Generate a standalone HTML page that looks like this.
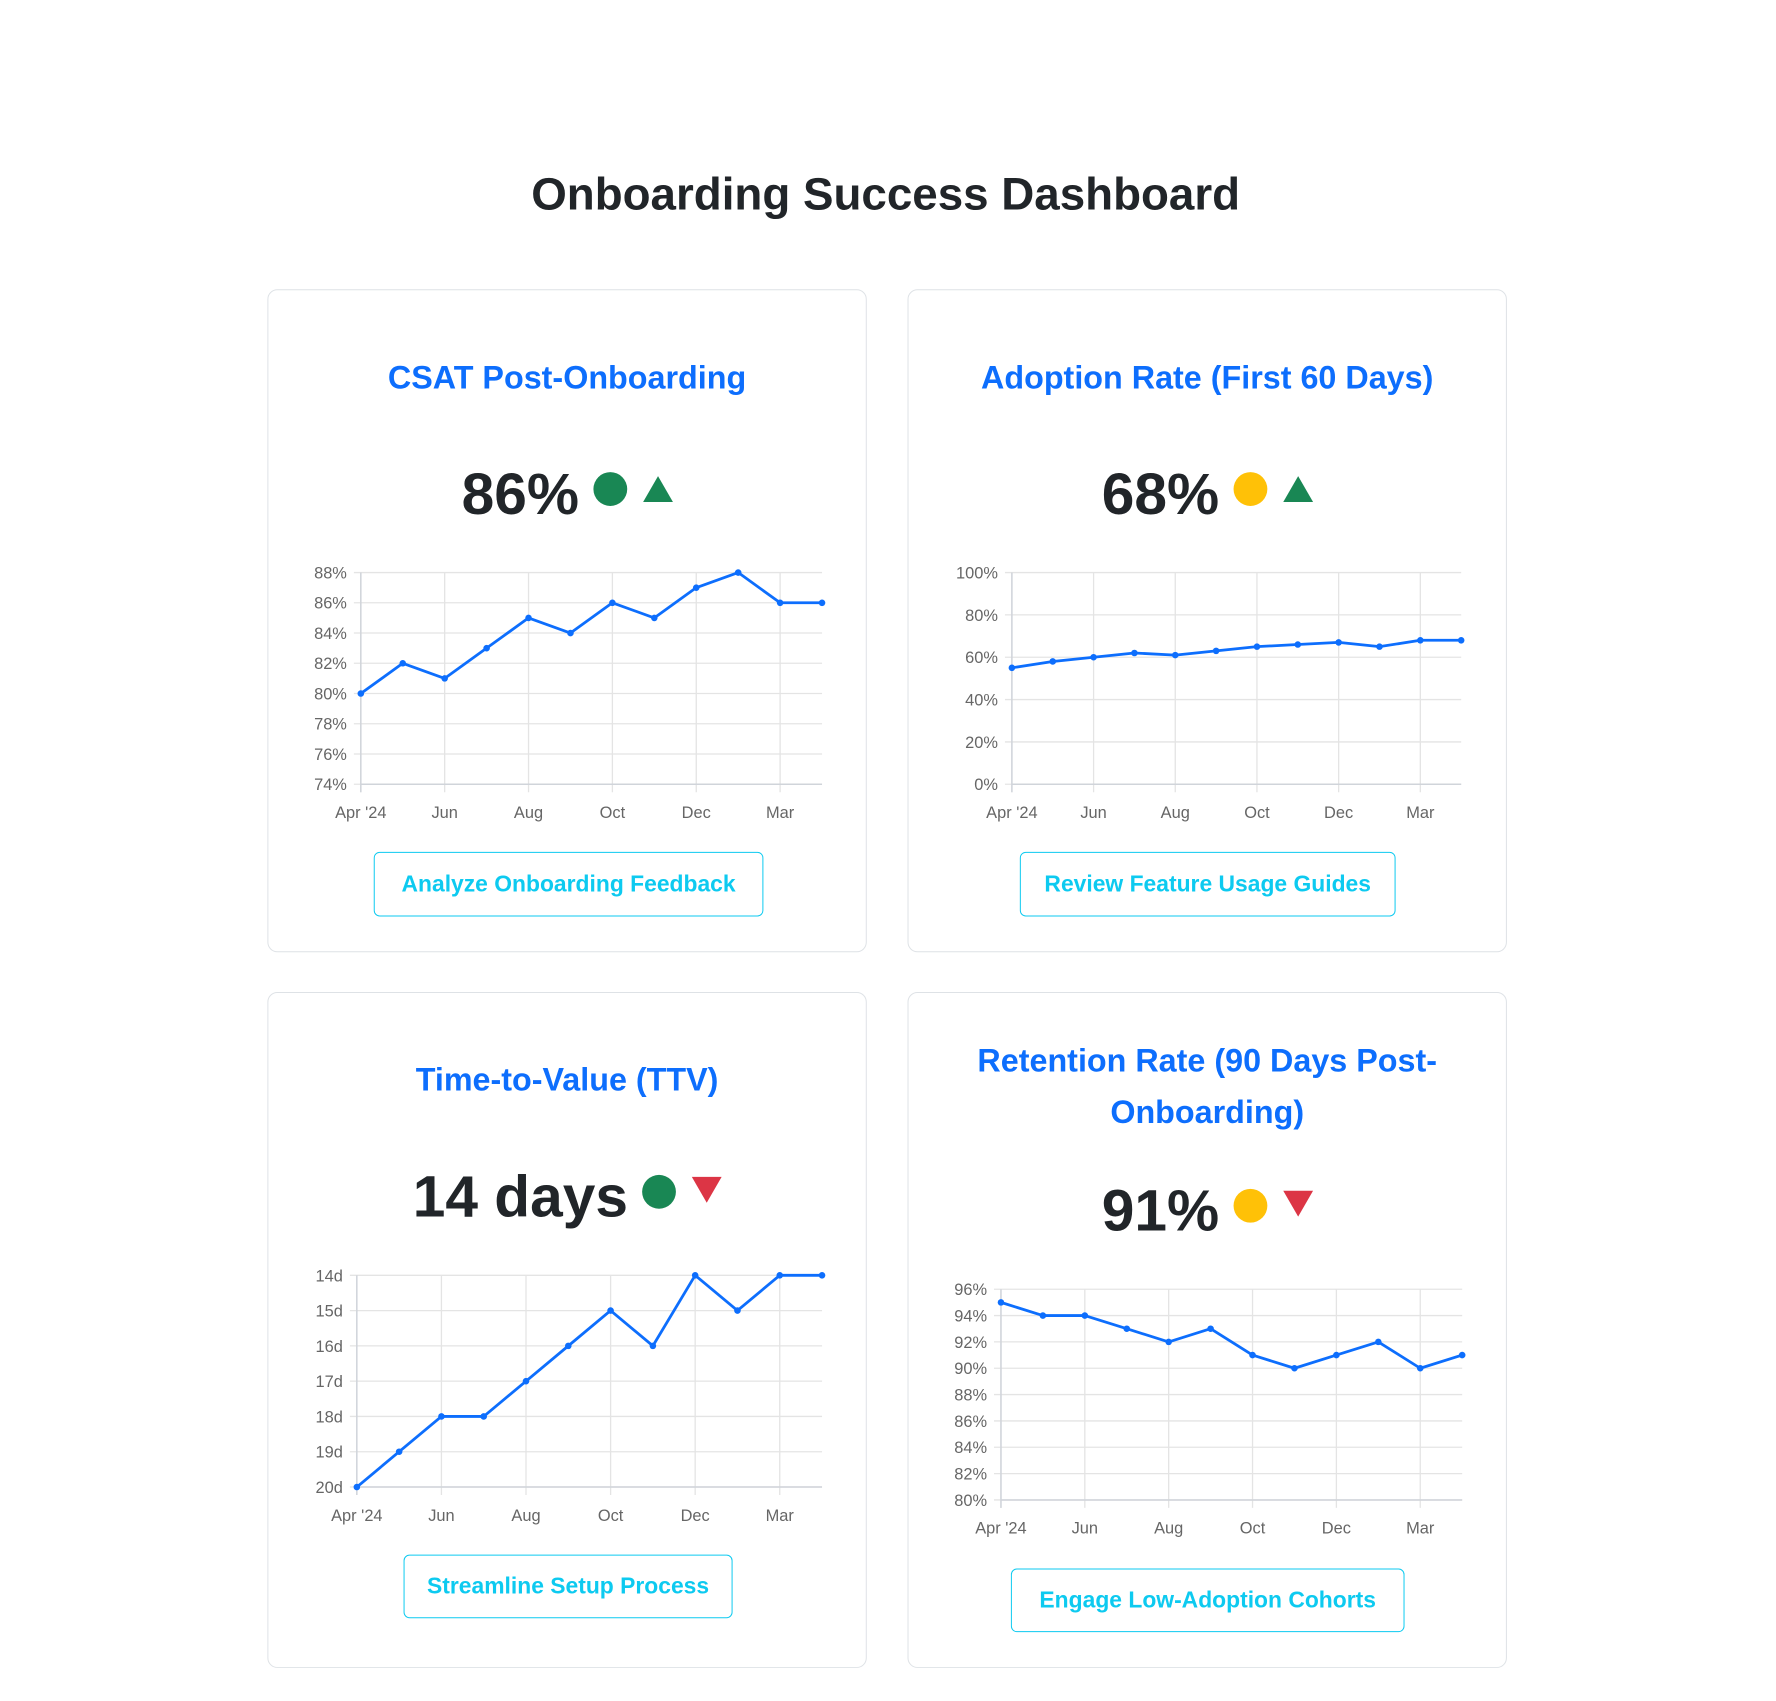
<!DOCTYPE html>
<html><head><meta charset="utf-8">
<style>
*{box-sizing:border-box;margin:0;padding:0}
body{width:1776px;height:1701px;background:#fff;font-family:"Liberation Sans",sans-serif;position:relative;overflow:hidden}
#wrap{position:absolute;left:0;top:0;width:1776px;height:1701px;transform:scale(0.994);transform-origin:0 0}
h1{position:absolute;left:0;width:1782px;top:168px;text-align:center;font-size:46px;font-weight:bold;color:#212529}
.card{position:absolute;border:1px solid #dee2e6;border-radius:10px;width:603px}
.ctitle{position:absolute;left:0;width:100%;text-align:center;font-size:32.5px;font-weight:bold;color:#0d6efd;line-height:52px}
.val{position:absolute;left:0;width:100%;text-align:center;font-size:59px;font-weight:bold;color:#212529;line-height:70px;white-space:nowrap}
.dot{display:inline-block;width:34px;height:34px;border-radius:50%;vertical-align:8px;margin-left:14px}
.tri{display:inline-block;width:0;height:0;border-left:15px solid transparent;border-right:15px solid transparent;vertical-align:12px;margin-left:16px}
.up{border-bottom:26px solid #198754}
.down{border-top:26px solid #dc3545;vertical-align:14px}
.btn{position:absolute;border:1.5px solid #0dcaf0;border-radius:6px;color:#0dcaf0;font-weight:bold;font-size:23px;text-align:center;background:#fff}
svg{position:absolute;left:0;top:0}
</style></head><body>
<div id="wrap">
<h1>Onboarding Success Dashboard</h1>

<div class="card" style="left:269px;top:291px;height:667px">
  <div class="ctitle" style="top:62px">CSAT Post-Onboarding</div>
  <div class="val" style="top:170px">86%<span class="dot" style="background:#198754"></span><span class="tri up"></span></div>
  <div class="btn" style="left:106px;top:565px;width:392px;height:65px;line-height:62px">Analyze Onboarding Feedback</div>
</div>
<div class="card" style="left:913px;top:291px;height:667px">
  <div class="ctitle" style="top:62px">Adoption Rate (First 60 Days)</div>
  <div class="val" style="top:170px">68%<span class="dot" style="background:#ffc107"></span><span class="tri up"></span></div>
  <div class="btn" style="left:112px;top:565px;width:378px;height:65px;line-height:62px">Review Feature Usage Guides</div>
</div>
<div class="card" style="left:269px;top:998px;height:680px">
  <div class="ctitle" style="top:61px">Time-to-Value (TTV)</div>
  <div class="val" style="top:170px">14 days<span class="dot" style="background:#198754"></span><span class="tri down"></span></div>
  <div class="btn" style="left:136px;top:565px;width:331px;height:64px;line-height:61px">Streamline Setup Process</div>
</div>
<div class="card" style="left:913px;top:998px;height:680px">
  <div class="ctitle" style="top:42px;padding:0 60px">Retention Rate (90 Days Post-Onboarding)</div>
  <div class="val" style="top:184px">91%<span class="dot" style="background:#ffc107"></span><span class="tri down"></span></div>
  <div class="btn" style="left:103px;top:579px;width:396px;height:64px;line-height:61px">Engage Low-Adoption Cohorts</div>
</div>

<svg id="charts" width="1776" height="1701"></svg>
</div>
<script>
const months = ["Apr '24","May","Jun","Jul","Aug","Sep","Oct","Nov","Dec","Jan","Mar","Apr"];
const tickIdx = [0,2,4,6,8,10];
const tickLabels = ["Apr '24","Jun","Aug","Oct","Dec","Mar"];
const csatValues = [80,82,81,83,85,84,86,85,87,88,86,86];
const csatTicks = [74,76,78,80,82,84,86,88];
const adoptionValues = [55,58,60,62,61,63,65,66,67,65,68,68];
const adoptionTicks = [0,20,40,60,80,100];
const ttvValues = [20,19,18,18,17,16,15,16,14,15,14,14];
const ttvTicks = [14,15,16,17,18,19,20];
const retentionValues = [95,94,94,93,92,93,91,90,91,92,90,91];
const retentionTicks = [80,82,84,86,88,90,92,94,96];

const NS="http://www.w3.org/2000/svg";
const svg=document.getElementById('charts');
function mk(tag,attrs,parent){const e=document.createElementNS(NS,tag);for(const k in attrs)e.setAttribute(k,attrs[k]);(parent||svg).appendChild(e);return e;}

function chart(name,box,values,ticks,fmt,invert){
  const g=mk('g',{});
  
  
  const lo=ticks[0],hi=ticks[ticks.length-1];
  const n=values.length;
  const x=i=>box.l+(box.r-box.l)*i/(n-1);
  const y=v=>invert? box.t+(box.b-box.t)*(v-lo)/(hi-lo) : box.b-(box.b-box.t)*(v-lo)/(hi-lo);
  ticks.forEach(t=>{
    const yy=y(t);
    const gl=mk('line',{x1:box.l-7,x2:box.r,y1:yy,y2:yy,stroke:'#e4e4e4','stroke-width':1.3},g);
    
    
    const tx=mk('text',{x:box.l-14,y:yy+6,'text-anchor':'end','font-size':16.5,fill:'#666','font-family':'Liberation Sans, sans-serif'},g);
    tx.textContent=fmt(t);
    
    
  });
  tickIdx.forEach((i,k)=>{
    const xx=x(i);
    const gl=mk('line',{x1:xx,x2:xx,y1:box.t,y2:box.b+8,stroke:'#e4e4e4','stroke-width':1.3},g);
    
    
    const tx=mk('text',{x:xx,y:box.b+34,'text-anchor':'middle','font-size':16.5,fill:'#666','font-family':'Liberation Sans, sans-serif'},g);
    tx.textContent=tickLabels[k];
    
    
  });
  const ax=mk('line',{x1:box.l,x2:box.l,y1:box.t,y2:box.b+8,stroke:'#d0d4da','stroke-width':1.5},g);
  
  
  const bx=mk('line',{x1:box.l,x2:box.r,y1:box.b,y2:box.b,stroke:'#d0d4da','stroke-width':1.5},g);
  
  
  const pts=values.map((v,i)=>x(i)+','+y(v)).join(' ');
  const pl=mk('polyline',{points:pts,fill:'none',stroke:'#0d6efd','stroke-width':2.8,'stroke-linejoin':'round'},g);
  
  
  values.forEach((v,i)=>{
    const c=mk('circle',{cx:x(i),cy:y(v),r:3.3,fill:'#0d6efd'},g);
    
    
  });
}
chart('csat',{l:363,r:827,t:576,b:789},csatValues,csatTicks,t=>t+'%',false);
chart('adoption',{l:1018,r:1470,t:576,b:789},adoptionValues,adoptionTicks,t=>t+'%',false);
chart('ttv',{l:359,r:827,t:1283,b:1496},ttvValues,ttvTicks,t=>t+'d',true);
chart('retention',{l:1007,r:1471,t:1297,b:1509},retentionValues,retentionTicks,t=>t+'%',false);
</script>
</body></html>
